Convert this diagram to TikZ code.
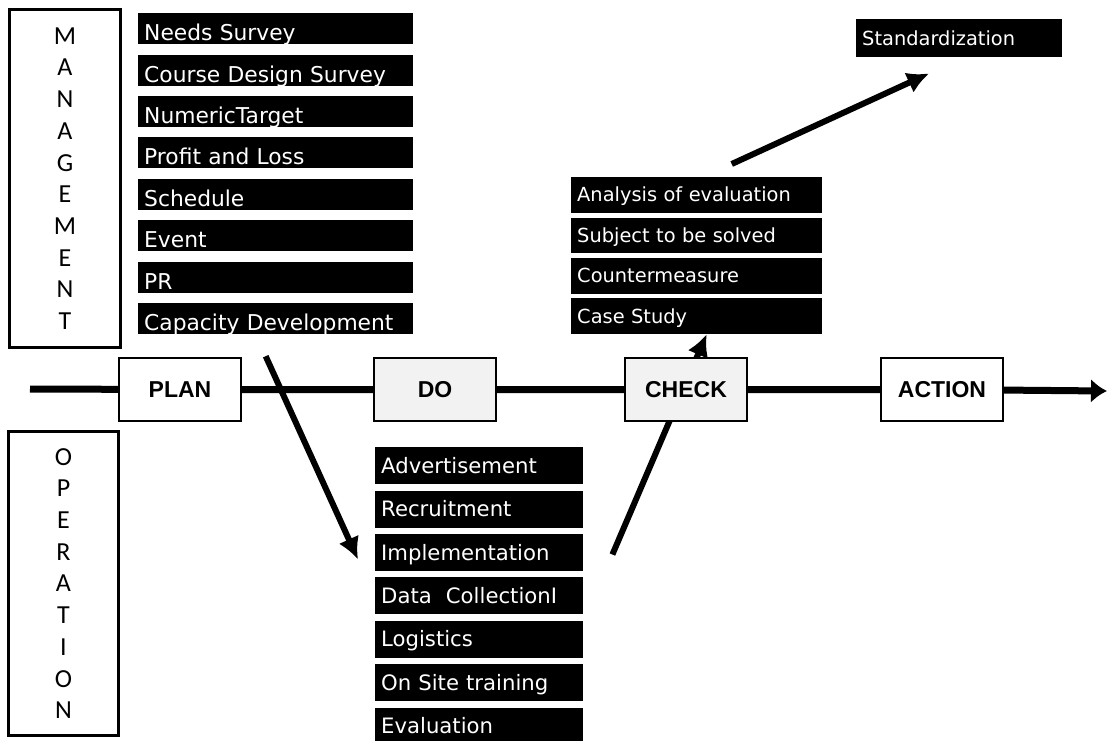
\documentclass[tikz,border=0pt]{standalone}
\usepackage{fontspec}
\setsansfont{DejaVu Sans}
\newfontfamily\stagefont{Liberation Sans}
\newfontfamily\letterfont{Carlito}
\usetikzlibrary{positioning, arrows.meta, backgrounds}

\begin{document}
\begin{tikzpicture}[x=1pt, y=-1pt, node distance=10pt]
\tikzstyle{side} = [rectangle, draw=black, line width=3pt, align=center, font=\letterfont\fontsize{26}{31.7}\selectfont]
\tikzstyle{stage} = [rectangle, draw=black, line width=2pt, minimum width=122pt, minimum height=63pt, font=\stagefont\bfseries\fontsize{23}{23}\selectfont]
\tikzstyle{blackbox} = [rectangle, fill=black, text=white, inner xsep=6pt, inner ysep=0pt, align=left, text depth=0pt]
\tikzstyle{planitem} = [blackbox, text width=263pt, minimum height=31pt, text height=24pt, font=\sffamily\fontsize{21.8}{21.8}\selectfont]
\tikzstyle{doitem} = [blackbox, text width=196pt, minimum height=37pt, text height=15pt, font=\sffamily\fontsize{21.2}{21.2}\selectfont]
\tikzstyle{checkitem} = [blackbox, text width=239pt, minimum height=35.5pt, text height=14pt, font=\sffamily\fontsize{19.4}{19.4}\selectfont]
\tikzstyle{mainline} = [line width=7pt]
\tikzstyle{bigarrow} = [line width=6pt, -{Latex[length=22pt, width=22pt]}]

\useasboundingbox (0,0) rectangle (1107,740);

% side labels
\node (mgt) [side, minimum width=111pt, minimum height=338pt] at (65,178.5) {M\\A\\N\\A\\G\\E\\M\\E\\N\\T};
\node (opr) [side, minimum width=110pt, minimum height=304pt] at (63.5,583.5) {O\\P\\E\\R\\A\\T\\I\\O\\N};

% PDCA stages
\node (plan)   [stage, fill=white] at (180,389.5) {PLAN};
\node (do)     [stage, fill=black!5, right=131pt of plan] {DO};
\node (check)  [stage, fill=black!5, right=127pt of do] {CHECK};
\node (action) [stage, fill=white, right=132pt of check] {ACTION};

% plan items
\node (need)   [planitem, anchor=north west] at (138,13) {Needs Survey};
\node (course) [planitem, below=of need] {Course Design Survey};
\node (target) [planitem, below=of course] {NumericTarget};
\node (profit) [planitem, below=of target] {Profit and Loss};
\node (sched)  [planitem, below=of profit] {Schedule};
\node (event)  [planitem, below=of sched] {Event};
\node (pr)     [planitem, below=of event] {PR};
\node (cap)    [planitem, below=of pr] {Capacity Development};

% do items
\node (adv)   [doitem, anchor=north west] at (375,447) {Advertisement};
\node (recr)  [doitem, below=6pt of adv] {Recruitment};
\node (impl)  [doitem, below=6pt of recr] {Implementation};
\node (data)  [doitem, below=6pt of impl] {Data\ \ CollectionI};
\node (logi)  [doitem, below=6pt of data] {Logistics};
\node (site)  [doitem, below=6pt of logi] {On Site training};
\node (evalu) [doitem, below=6pt of site] {Evaluation};

% check items
\node (anal)    [checkitem, anchor=north west] at (571,177) {Analysis of evaluation};
\node (subj)    [checkitem, below=4.5pt of anal] {Subject to be solved};
\node (counter) [checkitem, below=4.5pt of subj] {Countermeasure};
\node (case)    [checkitem, below=4.5pt of counter] {Case Study};
\node (std)     [checkitem, text width=194pt, minimum height=38pt, anchor=north west] at (856,19) {Standardization};

\coordinate (start) at (30,389);
\coordinate (finish) at (1107,391);

\begin{pgfonlayer}{background}
\draw [mainline] (start) -- (plan) -- (do) -- (check) -- (action);
\draw [mainline, -{Latex[length=16pt, width=24pt]}] (action) -- (finish);
\draw [bigarrow] ([xshift=-10pt, yshift=-22pt]cap.south) -- ([xshift=-17pt, yshift=-7pt]impl.west);
\draw [bigarrow] ([xshift=29pt, yshift=-2pt]impl.east) -- ([xshift=10pt]case.south);
\draw [bigarrow] ([xshift=35pt, yshift=13pt]anal.north) -- ([xshift=-30pt, yshift=-16pt]std.south);
\end{pgfonlayer}

\end{tikzpicture}
\end{document}
